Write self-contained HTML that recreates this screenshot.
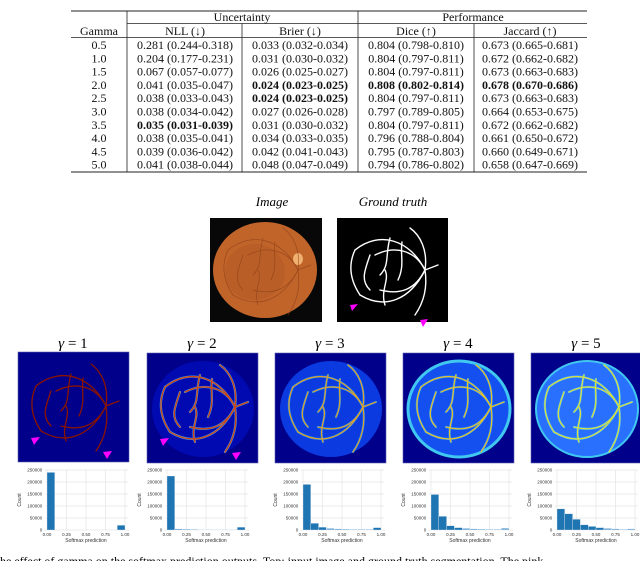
<!DOCTYPE html>
<html><head><meta charset="utf-8"><style>
body{margin:0;background:#fff;width:640px;height:561px;overflow:hidden;position:relative;font-family:"Liberation Serif",serif}
svg{position:absolute;left:0;top:0}
</style></head><body>
<svg id="fig" width="640" height="561" viewBox="0 0 640 561">
<defs>
<g id="vessels" fill="none" stroke-linecap="round">
<path d="M85,50 C70,20 40,10 15,30"/><path d="M85,50 C75,30 55,25 35,35"/>
<path d="M85,50 C70,80 45,90 20,75"/><path d="M85,50 C75,70 60,75 40,70"/>
<path d="M85,50 C88,30 80,15 70,8"/><path d="M85,50 C88,70 82,85 75,95"/>
<path d="M85,50 L98,45"/><path d="M50,18 C45,35 50,45 40,55"/>
<path d="M45,85 C40,70 50,60 45,50"/><path d="M30,35 C25,50 20,60 30,70"/>
<path d="M62,22 C60,35 65,45 58,60"/><path d="M15,30 C8,45 10,60 20,75"/>
</g>
</defs>
<g id="table" font-size="12" text-anchor="middle" fill="#111"></g>
<g>
<text x="272" y="206" font-size="13" font-style="italic" text-anchor="middle">Image</text>
<rect x="210" y="218" width="112" height="104" fill="#080808"/>
<ellipse cx="265" cy="270" rx="52" ry="48" fill="#c0642a"/>
<ellipse cx="255" cy="272" rx="30" ry="28" fill="#b45a26" opacity=".6"/>
<ellipse cx="298" cy="259" rx="5" ry="6" fill="#f0b070"/>
<g transform="translate(213,220) scale(1,1)" stroke="#8a3c18" stroke-width=".7" opacity=".7"><use href="#vessels"/></g>
</g>
<g>
<text x="393" y="206" font-size="13" font-style="italic" text-anchor="middle">Ground truth</text>
<rect x="337" y="218" width="111" height="104" fill="#000"/>
<g transform="translate(340,220)" stroke="#fff" stroke-width="1.4"><use href="#vessels"/></g>
<polygon points="350,305 358,304 352,311" fill="#f0f"/>
<polygon points="420,320 428,319 423,327" fill="#f0f"/>
</g>
<g id="heatmaps"></g>
<g id="hists" font-family="Liberation Sans, sans-serif"></g>
<text x="0" y="565" font-size="12">he effect of gamma on the softmax prediction outputs. Top: input image and ground truth segmentation. The pink</text>
</svg>
<script>
const NS="http://www.w3.org/2000/svg";
function mk(p,t,a,txt){const e=document.createElementNS(NS,t);for(const k in a)e.setAttribute(k,a[k]);if(txt!==undefined)e.textContent=txt;p.appendChild(e);return e;}
// table data
const tGamma=["0.5","1.0","1.5","2.0","2.5","3.0","3.5","4.0","4.5","5.0"];
const tNLL=["0.281 (0.244-0.318)","0.204 (0.177-0.231)","0.067 (0.057-0.077)","0.041 (0.035-0.047)","0.038 (0.033-0.043)","0.038 (0.034-0.042)","0.035 (0.031-0.039)","0.038 (0.035-0.041)","0.039 (0.036-0.042)","0.041 (0.038-0.044)"];
const tBrier=["0.033 (0.032-0.034)","0.031 (0.030-0.032)","0.026 (0.025-0.027)","0.024 (0.023-0.025)","0.024 (0.023-0.025)","0.027 (0.026-0.028)","0.031 (0.030-0.032)","0.034 (0.033-0.035)","0.042 (0.041-0.043)","0.048 (0.047-0.049)"];
const tDice=["0.804 (0.798-0.810)","0.804 (0.797-0.811)","0.804 (0.797-0.811)","0.808 (0.802-0.814)","0.804 (0.797-0.811)","0.797 (0.789-0.805)","0.804 (0.797-0.811)","0.796 (0.788-0.804)","0.795 (0.787-0.803)","0.794 (0.786-0.802)"];
const tJac=["0.673 (0.665-0.681)","0.672 (0.662-0.682)","0.673 (0.663-0.683)","0.678 (0.670-0.686)","0.673 (0.663-0.683)","0.664 (0.653-0.675)","0.672 (0.662-0.682)","0.661 (0.650-0.672)","0.660 (0.649-0.671)","0.658 (0.647-0.669)"];
const bold={nll:[6],brier:[3,4],dice:[3],jac:[3]};
const T=document.getElementById('table');
const cx=[99,185,300,416,530];
mk(T,'line',{x1:71,x2:587,y1:11,y2:11,stroke:'#222','stroke-width':1});
mk(T,'line',{x1:127,x2:587,y1:23.5,y2:23.5,stroke:'#222','stroke-width':.8});
mk(T,'line',{x1:71,x2:587,y1:37.5,y2:37.5,stroke:'#222','stroke-width':.8});
mk(T,'line',{x1:71,x2:587,y1:172,y2:172,stroke:'#222','stroke-width':1});
[127,242,358,474].forEach((x,i)=>mk(T,'line',{x1:x,x2:x,y1:i==1||i==3?23.5:11,y2:172,stroke:'#222','stroke-width':.8}));
mk(T,'text',{x:242,y:21},'Uncertainty');mk(T,'text',{x:473,y:21},'Performance');
['Gamma','NLL (↓)','Brier (↓)','Dice (↑)','Jaccard (↑)'].forEach((s,i)=>mk(T,'text',{x:cx[i],y:35},s));
const cols=[tGamma,tNLL,tBrier,tDice,tJac],bk=[[],bold.nll,bold.brier,bold.dice,bold.jac];
for(let r=0;r<10;r++){cols.forEach((c,i)=>{const t=mk(T,'text',{x:cx[i],y:49+r*13.3},c[r]);if(bk[i].includes(r))t.setAttribute('font-weight','bold');});}
// heatmaps
const H=document.getElementById('heatmaps');
const hmX=[18,147,275,403,531],hmY=[352,353,353,353,353];
const hmDisk=["#00008c","#000ab0","#0a3ae0","#1450f0","#2a70ff"];
const hmVes=[["#8b1400",1.3],["#d04010",1.3],["#e8a020",1.1],["#f0c020",1.1],["#e0e030",1.1]];
const hmBg2=[null,"#60d0f0","#30a0f0","#40b0f0","#60d0f0"];
for(let i=0;i<5;i++){
 const g=mk(H,'g',{});
 
 
 const t=mk(g,'text',{x:hmX[i]+55,y:348,'font-size':15,'text-anchor':'middle'},'');
 t.innerHTML='<tspan font-style="italic">γ</tspan> = '+(i+1);
 mk(g,'rect',{x:hmX[i],y:hmY[i],width:111,height:110,fill:'#00008b',stroke:'#6060b0','stroke-width':.6});
 if(i>0)mk(g,'ellipse',{cx:hmX[i]+56,cy:hmY[i]+56,rx:51,ry:48,fill:hmDisk[i]});
 if(i>=3)mk(g,'ellipse',{cx:hmX[i]+56,cy:hmY[i]+56,rx:51,ry:48,fill:'none',stroke:'#40c8f0','stroke-width':i==3?3:2});
 if(i>0)mk(g,'use',{href:'#vessels',transform:`translate(${hmX[i]+3},${hmY[i]+4})`,stroke:hmBg2[i],'stroke-width':2.2,opacity:.8});
 mk(g,'use',{href:'#vessels',transform:`translate(${hmX[i]+3},${hmY[i]+4})`,stroke:hmVes[i][0],'stroke-width':hmVes[i][1]});
 if(i<2){mk(g,'polygon',{points:`${hmX[i]+13},${hmY[i]+86} ${hmX[i]+22},${hmY[i]+85} ${hmX[i]+16},${hmY[i]+93}`,fill:'#f0f'});
  mk(g,'polygon',{points:`${hmX[i]+85},${hmY[i]+100} ${hmX[i]+94},${hmY[i]+99} ${hmX[i]+89},${hmY[i]+107}`,fill:'#f0f'});}
}
// histograms
const binStarts=[0,0.1,0.2,0.3,0.4,0.5,0.6,0.7,0.8,0.9];
const counts1=[240000,0,0,0,0,0,0,0,0,20000];
const counts2=[225000,5000,4000,3000,2000,2000,2000,2000,2000,12000];
const counts3=[190000,28000,12000,7000,5000,4000,3000,3000,3000,10000];
const counts4=[148000,57000,18000,10000,7000,5000,4000,3000,3000,8000];
const counts5=[88000,68000,45000,22000,15000,10000,7000,5000,3000,5000];
const yTicks=[0,50000,100000,150000,200000,250000];
const xTicks=[0,0.25,0.5,0.75,1.0];
const xTickLabels=["0.00","0.25","0.50","0.75","1.00"];
const allCounts=[counts1,counts2,counts3,counts4,counts5];
const hx0=[47,167,303,431,557],pw=78,py0=530,py1=470,yMax=250000;
const G=document.getElementById('hists');
allCounts.forEach((cs,k)=>{
 const g=mk(G,'g',{});
 
 
 const X=v=>hx0[k]+v*pw, Y=v=>py0-(v/yMax)*(py0-py1);
 yTicks.forEach(v=>{mk(g,'line',{x1:X(-0.03),x2:X(1.04),y1:Y(v),y2:Y(v),stroke:'#e4e4e4','stroke-width':.7});
  mk(g,'text',{x:X(-0.06),y:Y(v)+1.5,'font-size':4.5,'text-anchor':'end',fill:'#333'},String(v));});
 xTicks.forEach((v,j)=>{mk(g,'line',{x1:X(v),x2:X(v),y1:py1,y2:py0,stroke:'#e4e4e4','stroke-width':.7});
  mk(g,'text',{x:X(v),y:536,'font-size':4.5,'text-anchor':'middle',fill:'#333'},xTickLabels[j]);});
 cs.forEach((c,j)=>{if(c<=0)return;const b=mk(g,'rect',{x:X(binStarts[j]),y:Y(c),width:pw*0.1,height:py0-Y(c),fill:c<10000?'#70a8d4':'#1f74b2',stroke:'#fff','stroke-width':.3});
  
  });
 mk(g,'text',{x:X(0.5),y:542,'font-size':5,'text-anchor':'middle',fill:'#333'},'Softmax prediction');
 mk(g,'text',{x:0,y:0,'font-size':5,'text-anchor':'middle',fill:'#333',transform:`translate(${hx0[k]-26},500) rotate(-90)`},'Count');
});
</script>
</body></html>
